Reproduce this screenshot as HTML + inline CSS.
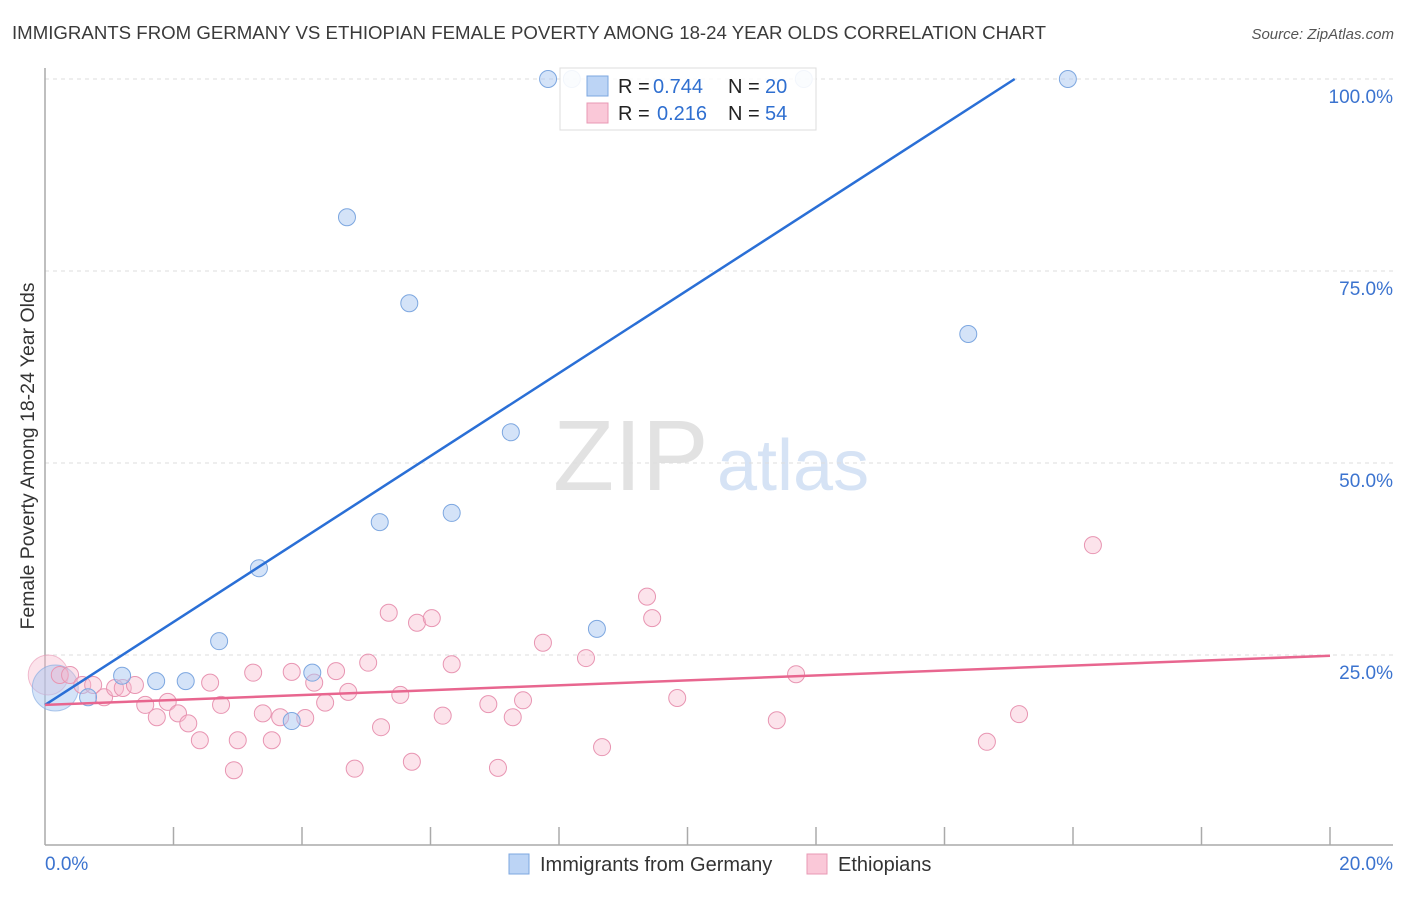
<!DOCTYPE html>
<html><head><meta charset="utf-8"><style>
body{margin:0;background:#fff;font-family:"Liberation Sans",sans-serif;}
svg text{font-family:"Liberation Sans",sans-serif;}
</style></head><body>
<svg id="chart" width="1406" height="892" viewBox="0 0 1406 892" xmlns="http://www.w3.org/2000/svg">
<text x="12" y="39" font-size="18" fill="#3a3a3a" textLength="1034" lengthAdjust="spacingAndGlyphs">IMMIGRANTS FROM GERMANY VS ETHIOPIAN FEMALE POVERTY AMONG 18-24 YEAR OLDS CORRELATION CHART</text>
<text x="1394" y="39" font-size="15" fill="#555" text-anchor="end" font-style="italic">Source: ZipAtlas.com</text>
<g>
<text x="553" y="490" font-size="100" fill="#e2e2e2" font-family="Liberation Serif,serif">ZIP</text>
<text x="717" y="490" font-size="72" fill="#d6e3f5">atlas</text>
</g>
<text transform="translate(34,456) rotate(-90)" font-size="19" fill="#333" text-anchor="middle" textLength="347" lengthAdjust="spacingAndGlyphs">Female Poverty Among 18-24 Year Olds</text>
<g id="grid"></g><g id="axes"></g><g id="marks"></g>
<g>
<rect x="560" y="68" width="256" height="62" fill="#fff" fill-opacity="0.85" stroke="#ddd"/>
<rect x="587" y="76" width="21" height="20" fill="#bcd4f5" stroke="#7da7e0"/>
<text x="618" y="93" font-size="20" fill="#222">R =</text>
<text x="653" y="93" font-size="20" fill="#2f6fd0">0.744</text>
<text x="728" y="93" font-size="20" fill="#222">N =</text>
<text x="765" y="93" font-size="20" fill="#2f6fd0">20</text>
<rect x="587" y="103" width="21" height="20" fill="#fac8d8" stroke="#e899b4"/>
<text x="618" y="120" font-size="20" fill="#222">R =</text>
<text x="657" y="120" font-size="20" fill="#2f6fd0">0.216</text>
<text x="728" y="120" font-size="20" fill="#222">N =</text>
<text x="765" y="120" font-size="20" fill="#2f6fd0">54</text>
</g>
<g>
<rect x="509" y="854" width="20" height="20" fill="#bcd4f5" stroke="#7da7e0"/>
<text x="540" y="871" font-size="20" fill="#333">Immigrants from Germany</text>
<rect x="807" y="854" width="20" height="20" fill="#fac8d8" stroke="#e899b4"/>
<text x="838" y="871" font-size="20" fill="#333">Ethiopians</text>
</g>
</svg>
<script>
const blueX=[7.83,15.92,4.70,5.67,14.37,7.25,5.21,6.33,3.33,2.71,8.59,1.20,1.73,2.19,0.67,4.16,3.84];
const blueY=[100,100,82.0,70.8,66.8,54.0,42.3,43.5,36.3,26.8,28.4,22.3,21.6,21.6,19.5,22.7,16.4];
const faintBlueX=[8.20,11.81];
const faintBlueY=[100,100];
const pinkX=[0.23,0.39,0.58,0.75,0.92,1.09,1.21,1.40,1.56,1.74,1.91,2.07,2.23,2.41,2.57,2.74,2.94,3.00,3.24,3.39,3.53,3.66,3.84,4.05,4.19,4.36,4.53,4.72,4.82,5.03,5.23,5.35,5.53,5.71,5.79,6.02,6.19,6.33,6.90,7.05,7.28,7.44,7.75,8.42,8.67,9.37,9.45,9.84,11.39,11.69,14.66,15.16,16.31];
const pinkY=[22.4,22.4,21.1,21.1,19.5,20.7,20.7,21.1,18.5,16.9,18.9,17.4,16.1,13.9,21.4,18.5,10.0,13.9,22.7,17.4,13.9,16.9,22.8,16.8,21.4,18.8,22.9,20.2,10.2,24.0,15.6,30.5,19.8,11.1,29.2,29.8,17.1,23.8,18.6,10.3,16.9,19.1,26.6,24.6,13.0,32.6,29.8,19.4,16.5,22.5,13.7,17.3,39.3];
const bigPoints=[[0.05,22.4,'pink'],[0.16,20.7,'blue']];
const blueTrend=[18.5,5.40];
const pinkTrend=[18.5,0.32];
const yTicks=[25,50,75,100];
const yTickLabels=['25.0%','50.0%','75.0%','100.0%'];
const xTickVals=[0,2,4,6,8,10,12,14,16,18,20];
const xEndLabels=['0.0%','20.0%'];

const NS='http://www.w3.org/2000/svg';
const sx=v=>45+v*64.25, sy=v=>847-v*7.68;
function mk(tag,attrs,parent){const e=document.createElementNS(NS,tag);for(const k in attrs)e.setAttribute(k,attrs[k]);parent.appendChild(e);return e;}
const grid=document.getElementById('grid'),axes=document.getElementById('axes'),marks=document.getElementById('marks');
yTicks.forEach((t,i)=>{
 const l=mk('line',{x1:45,x2:1395,y1:sy(t),y2:sy(t),stroke:'#ddd','stroke-dasharray':'4,4'},grid);
 
 
 const tx=mk('text',{x:1393,y:sy(t)+24,'font-size':19,fill:'#3b73cf','text-anchor':'end'},axes);
 tx.textContent=yTickLabels[i];
 
 
});
const ya=mk('line',{x1:45,x2:45,y1:68,y2:845,stroke:'#aaa','stroke-width':1.5},axes);


const xa=mk('line',{x1:45,x2:1393,y1:845,y2:845,stroke:'#aaa','stroke-width':1.5},axes);


xTickVals.slice(1).forEach(v=>{
 const t=mk('line',{x1:sx(v),x2:sx(v),y1:827,y2:845,stroke:'#aaa','stroke-width':1.5},axes);
 
 
});
const xl0=mk('text',{x:45,y:870,'font-size':19,fill:'#3b73cf'},axes);xl0.textContent=xEndLabels[0];


const xl1=mk('text',{x:1393,y:870,'font-size':19,fill:'#3b73cf','text-anchor':'end'},axes);xl1.textContent=xEndLabels[1];


const styles={blue:{fill:'rgba(170,200,242,0.5)',stroke:'#7da7e0'},pink:{fill:'rgba(248,185,205,0.4)',stroke:'#e895b2'}};
bigPoints.forEach(p=>{
 const c=mk('circle',{cx:sx(p[0]),cy:sy(p[1]),r:p[2]=='pink'?20:23,fill:styles[p[2]].fill,stroke:styles[p[2]].stroke,'stroke-opacity':0.6},marks);
 
 
});
pinkX.forEach((x,i)=>{
 const c=mk('circle',{cx:sx(x),cy:sy(pinkY[i]),r:8.5,fill:styles.pink.fill,stroke:styles.pink.stroke},marks);
 
 
});
faintBlueX.forEach((x,i)=>{
 const c=mk('circle',{cx:sx(x),cy:sy(faintBlueY[i]),r:8.5,fill:'rgba(200,218,245,0.6)',stroke:'#a9c2ea'},marks);
 
 
});
blueX.forEach((x,i)=>{
 const c=mk('circle',{cx:sx(x),cy:sy(blueY[i]),r:8.5,fill:styles.blue.fill,stroke:styles.blue.stroke},marks);
 
 
});
const bx2=(100-blueTrend[0])/blueTrend[1];
const bl=mk('line',{x1:sx(0),y1:sy(blueTrend[0]),x2:sx(bx2),y2:sy(100),stroke:'#2a6fd6','stroke-width':2.5},marks);


const pl=mk('line',{x1:sx(0),y1:sy(pinkTrend[0]),x2:sx(20),y2:sy(pinkTrend[0]+pinkTrend[1]*20),stroke:'#e8668f','stroke-width':2.5},marks);


</script>
</body></html>
